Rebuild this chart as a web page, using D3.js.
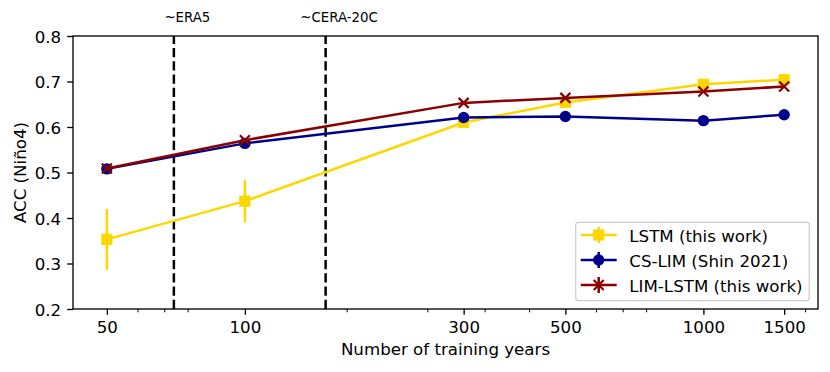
<!DOCTYPE html>
<html>
<head>
<meta charset="utf-8">
<script src="https://cdn.jsdelivr.net/npm/d3@7"></script>
<style>
  body { margin: 0; background: #fff; }
  svg { display: block; font-family: "DejaVu Sans", sans-serif; }
</style>
</head>
<body>
<script>
// data
const years = [50, 100, 300, 500, 1000, 1500]
const lstm = [0.353, 0.437, 0.610, 0.654, 0.694, 0.704]
const lstmErr = [0.067, 0.047, 0.006, 0.006, 0.005, 0.005]
const csLim = [0.508, 0.564, 0.621, 0.623, 0.614, 0.627]
const csLimErr = [0.003, 0.003, 0.003, 0.003, 0.003, 0.003]
const limLstm = [0.509, 0.571, 0.653, 0.664, 0.678, 0.689]
const limLstmErr = [0.003, 0.003, 0.003, 0.003, 0.003, 0.003]

const xTicks = [50, 100, 300, 500, 1000, 1500]
const xMinorTicks = [58.3, 66.7, 75, 166.7, 250, 333.3, 416.7, 583.3, 666.7, 750, 1666.7]
const yTicks = [0.2, 0.3, 0.4, 0.5, 0.6, 0.7, 0.8]
const refLines = [{ x: 70, label: "~ERA5" }, { x: 150, label: "~CERA-20C" }]

const series = [
    { name: "LSTM (this work)", values: lstm, err: lstmErr, color: "#ffd700", marker: "square" },
    { name: "CS-LIM (Shin 2021)", values: csLim, err: csLimErr, color: "#00008b", marker: "circle" },
    { name: "LIM-LSTM (this work)", values: limLstm, err: limLstmErr, color: "#8b0000", marker: "x" }
]

const width = 830, height = 372
const margin = { top: 36, right: 12, bottom: 63, left: 73 }
const fs = 16.67

const svg = d3.select("body")
    .append("svg")
    .attr("width", width)
    .attr("height", height)

// log x axis padded like matplotlib (5% of the log range each side)
const lo = Math.log10(50), hi = Math.log10(1500), pad = (hi - lo) * 0.05
const xScale = d3.scaleLog()
    .domain([Math.pow(10, lo - pad), Math.pow(10, hi + pad)])
    .range([margin.left, width - margin.right])
const yScale = d3.scaleLinear()
    .domain([0.2, 0.8])
    .range([height - margin.bottom, margin.top])

const x0 = margin.left, x1 = width - margin.right
const y0 = height - margin.bottom, y1 = margin.top

// axes
const xaxis = d3.axisBottom(xScale)
    .tickValues(xTicks)
    .tickFormat(d3.format("d"))
    .tickSize(5.8)
    .tickPadding(6)
const xminor = d3.axisBottom(xScale)
    .tickValues(xMinorTicks)
    .tickFormat("")
    .tickSize(3.3)
const yaxis = d3.axisLeft(yScale)
    .tickValues(yTicks)
    .tickFormat(d3.format(".1f"))
    .tickSize(5.8)
    .tickPadding(6)

const gx = svg.append("g")
    .attr("transform", `translate(0,${y0})`)
    .call(xaxis)
gx.select(".domain").remove()
gx.selectAll("line").attr("stroke", "#000").attr("stroke-width", 1.33)
gx.selectAll("text").attr("font-size", fs).attr("fill", "#000")
    .attr("font-family", "DejaVu Sans").attr("dy", "0.71em")

const gm = svg.append("g")
    .attr("transform", `translate(0,${y0})`)
    .call(xminor)
gm.select(".domain").remove()
gm.selectAll("line").attr("stroke", "#000").attr("stroke-width", 1)

const gy = svg.append("g")
    .attr("transform", `translate(${x0},0)`)
    .call(yaxis)
gy.select(".domain").remove()
gy.selectAll("line").attr("stroke", "#000").attr("stroke-width", 1.33)
gy.selectAll("text").attr("font-size", fs).attr("fill", "#000")
    .attr("font-family", "DejaVu Sans").attr("dy", "0.36em")

// axis labels
svg.append("text")
    .attr("x", (x0 + x1) / 2)
    .attr("y", 355)
    .attr("text-anchor", "middle")
    .attr("font-size", fs)
    .text("Number of training years")

svg.append("text")
    .attr("transform", `translate(25.5,${(y0 + y1) / 2}) rotate(-90)`)
    .attr("text-anchor", "middle")
    .attr("font-size", fs)
    .text("ACC (Niño4)")

// dashed reference lines
svg.selectAll(".ref")
    .data(refLines)
    .enter().append("line")
    .attr("class", "ref")
    .attr("x1", d => xScale(d.x))
    .attr("x2", d => xScale(d.x))
    .attr("y1", y0)
    .attr("y2", y1)
    .attr("stroke", "#000")
    .attr("stroke-width", 2.5)
    .attr("stroke-dasharray", "9.25,4")

svg.selectAll(".reflabel")
    .data(refLines)
    .enter().append("text")
    .attr("class", "reflabel")
    .attr("x", d => xScale(d.x * 1.07))
    .attr("y", 22.3)
    .attr("text-anchor", "middle")
    .attr("font-size", 13.33)
    .text(d => d.label)

function drawMarker(g, type, color) {
    if (type === "square") {
        g.append("rect").attr("x", -5.6).attr("y", -5.6).attr("width", 11.2).attr("height", 11.2)
            .attr("fill", color)
    } else if (type === "circle") {
        g.append("circle").attr("r", 5.7).attr("fill", color)
    } else {
        g.append("path").attr("d", "M-5,-5L5,5M-5,5L5,-5")
            .attr("stroke", color).attr("stroke-width", 2.2).attr("fill", "none")
    }
}

const line = d3.line()
    .x(d => xScale(d[0]))
    .y(d => yScale(d[1]))

series.forEach(s => {
    const pts = years.map((yr, i) => [yr, s.values[i], s.err[i]])
    const g = svg.append("g")

    g.selectAll(".err")
        .data(pts)
        .enter().append("line")
        .attr("x1", d => xScale(d[0]))
        .attr("x2", d => xScale(d[0]))
        .attr("y1", d => yScale(d[1] - d[2]))
        .attr("y2", d => yScale(d[1] + d[2]))
        .attr("stroke", s.color)
        .attr("stroke-width", 2.5)

    g.append("path")
        .datum(pts)
        .attr("d", line)
        .attr("fill", "none")
        .attr("stroke", s.color)
        .attr("stroke-width", 2.5)
        .attr("stroke-linejoin", "round")

    g.selectAll(".mk")
        .data(pts)
        .enter().append("g")
        .attr("transform", d => `translate(${xScale(d[0])},${yScale(d[1])})`)
        .each(function () { drawMarker(d3.select(this), s.marker, s.color) })
})

// frame
svg.append("rect")
    .attr("x", x0).attr("y", y1)
    .attr("width", x1 - x0).attr("height", y0 - y1)
    .attr("fill", "none")
    .attr("stroke", "#000")
    .attr("stroke-width", 1.33)

// legend (lower right)
const leg = svg.append("g")
leg.append("rect")
    .attr("x", 575.7).attr("y", 222.3)
    .attr("width", 233.6).attr("height", 78.4)
    .attr("rx", 3)
    .attr("fill", "#fff").attr("fill-opacity", 0.8)
    .attr("stroke", "#ccc").attr("stroke-width", 1.2)

series.forEach((s, i) => {
    const cy = 235 + i * 25
    const row = leg.append("g").attr("transform", `translate(0,${cy})`)
    row.append("line")
        .attr("x1", 580.7).attr("x2", 616.7)
        .attr("stroke", s.color).attr("stroke-width", 2.5)
    row.append("line")
        .attr("x1", 598.7).attr("x2", 598.7).attr("y1", -8).attr("y2", 8)
        .attr("stroke", s.color).attr("stroke-width", 2.5)
    drawMarker(row.append("g").attr("transform", "translate(598.7,0)"), s.marker, s.color)
    row.append("text")
        .attr("x", 629.3).attr("y", 7.3)
        .attr("font-size", fs)
        .text(s.name)
})
</script>
</body>
</html>
